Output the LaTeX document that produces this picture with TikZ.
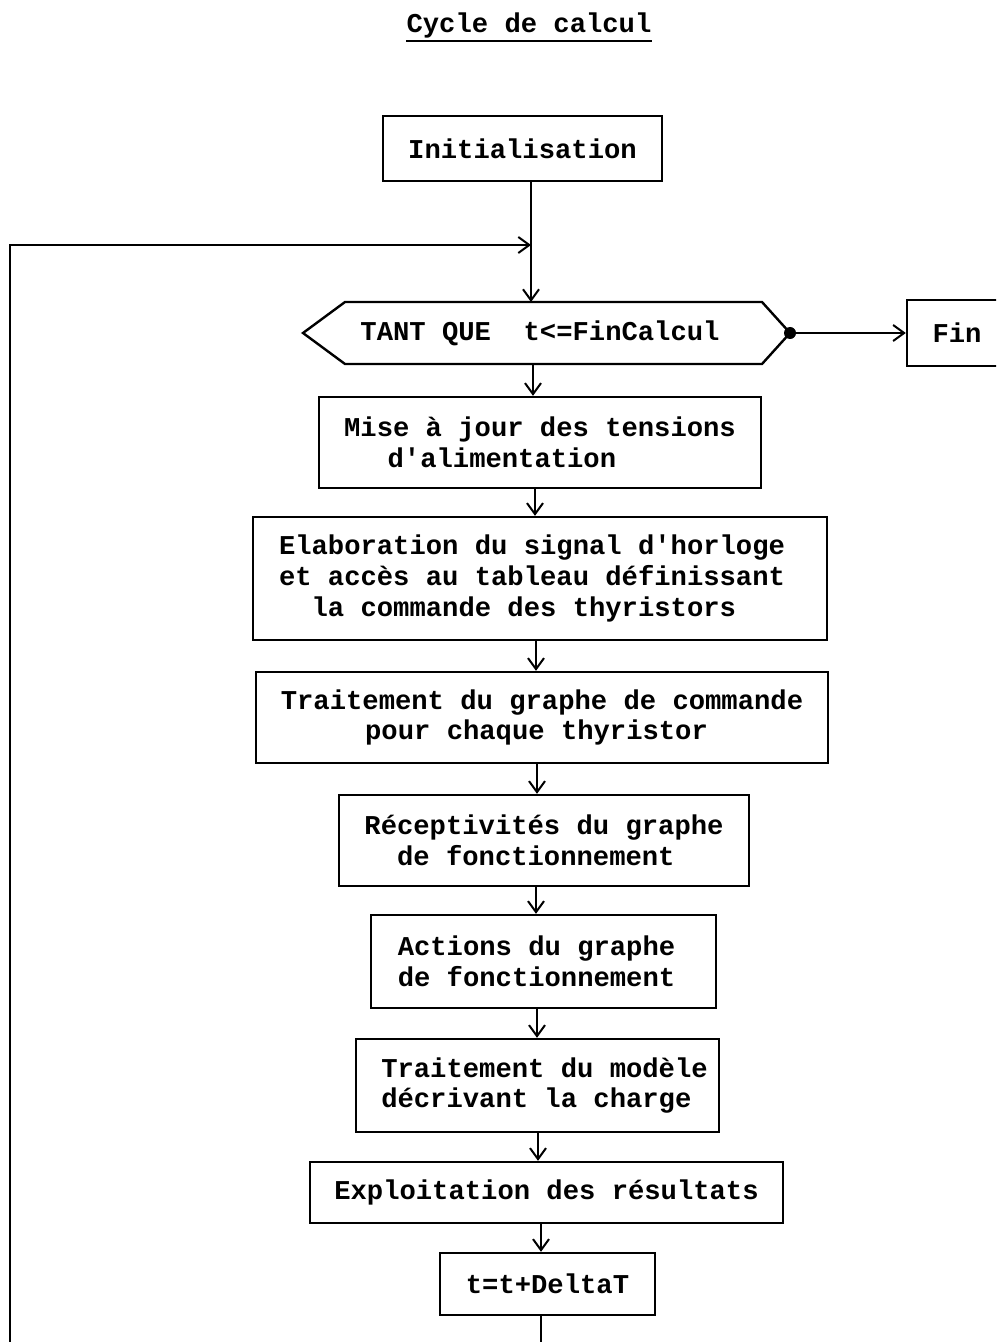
\documentclass[tikz,border=0pt]{standalone}
\usepackage{fontspec}
\newfontfamily\codefont{Liberation Mono}
\usetikzlibrary{arrows.meta}
\newcommand\txtf{\codefont\bfseries\fontsize{13.6}{15.3}\selectfont}
\begin{document}
\begin{tikzpicture}[x=0.5pt,y=-0.5pt,
  box/.style={draw, line width=1.2pt, inner sep=0pt, align=left, font=\txtf},
  conn/.style={line width=1pt, -{Straight Barb[length=5.5pt,width=8pt]}},
  plain/.style={line width=1pt}]
\useasboundingbox (0,0) rectangle (996,1342);
\clip (0,0) rectangle (996,1342);

% title
\node[inner sep=0pt, font=\txtf] (title) at (529,25) {Cycle de calcul};
\draw[plain] ([yshift=-1.5pt]title.south west) -- ([yshift=-1.5pt]title.south east);

% boxes
\node[box, minimum width=139.5pt, minimum height=32.5pt] (init) at (522.5,148.5) {Initialisation};
\node[box, minimum width=50pt, minimum height=33pt] (fin) at (957,333) {Fin};
\node[box, minimum width=221pt, minimum height=45.5pt] (mise) at (540,442.5)
  {Mise à jour des tensions\\\hspace*{1.6em}d'alimentation};
\node[box, minimum width=287pt, minimum height=61.5pt] (elab) at (540,578.5)
  {Elaboration du signal d'horloge\hspace*{8pt}\\et accès au tableau définissant\\\hspace*{1.2em}la commande des thyristors};
\node[box, minimum width=286pt, minimum height=45.5pt] (trait) at (542,717.5)
  {Traitement du graphe de commande\\\hspace*{3.1em}pour chaque thyristor};
\node[box, minimum width=205pt, minimum height=45.5pt] (recep) at (544,840.5)
  {Réceptivités du graphe\\\hspace*{1.2em}de fonctionnement};
\node[box, minimum width=172.5pt, minimum height=46.5pt] (actions) at (543.5,961.5)
  {Actions du graphe\hspace*{7pt}\\de fonctionnement};
\node[box, minimum width=181.5pt, minimum height=46.5pt] (modele) at (537.5,1085.5)
  {\hspace*{7pt}Traitement du modèle\\\hspace*{7pt}décrivant la charge};
\node[box, minimum width=236.5pt, minimum height=30.5pt] (exploit) at (546.5,1192.5)
  {Exploitation des résultats};
\node[box, minimum width=107.5pt, minimum height=31pt] (tdt) at (547.5,1284)
  {t=t+DeltaT};

% hexagon (TANT QUE)
\coordinate (hl) at (303,333);
\coordinate (htl) at (345,302);
\coordinate (htr) at (762,302);
\coordinate (hr) at (790,333);
\coordinate (hbr) at (762,364);
\coordinate (hbl) at (345,364);
\draw[line width=1.2pt] (hl) -- (htl) -- (htr) -- (hr) -- (hbr) -- (hbl) -- cycle;
\node[inner sep=0pt, font=\txtf] (hex) at (540,333) {TANT QUE~~t<=FinCalcul};

% connectors
\coordinate (junc) at (531,245);
\coordinate (loopcorner) at (10,1400);
\draw[conn] (init.south -| junc) -- (htl -| junc);
\draw[conn] (hbl -| 533,0) -- (mise.north -| 533,0);
\draw[conn] (mise.south -| 535,0) -- (elab.north -| 535,0);
\draw[conn] (elab.south -| 536,0) -- (trait.north -| 536,0);
\draw[conn] (trait.south -| 537,0) -- (recep.north -| 537,0);
\draw[conn] (recep.south -| 536,0) -- (actions.north -| 536,0);
\draw[conn] (actions.south -| 537,0) -- (modele.north -| 537,0);
\draw[conn] (modele.south -| 538,0) -- (exploit.north -| 538,0);
\draw[conn] (exploit.south -| 541,0) -- (tdt.north -| 541,0);
\draw[conn] (tdt.south -| 541,0) |- (loopcorner) |- (junc);
\fill (hr) circle (3pt);
\draw[conn] (hr) -- (fin.west);
\end{tikzpicture}
\end{document}
